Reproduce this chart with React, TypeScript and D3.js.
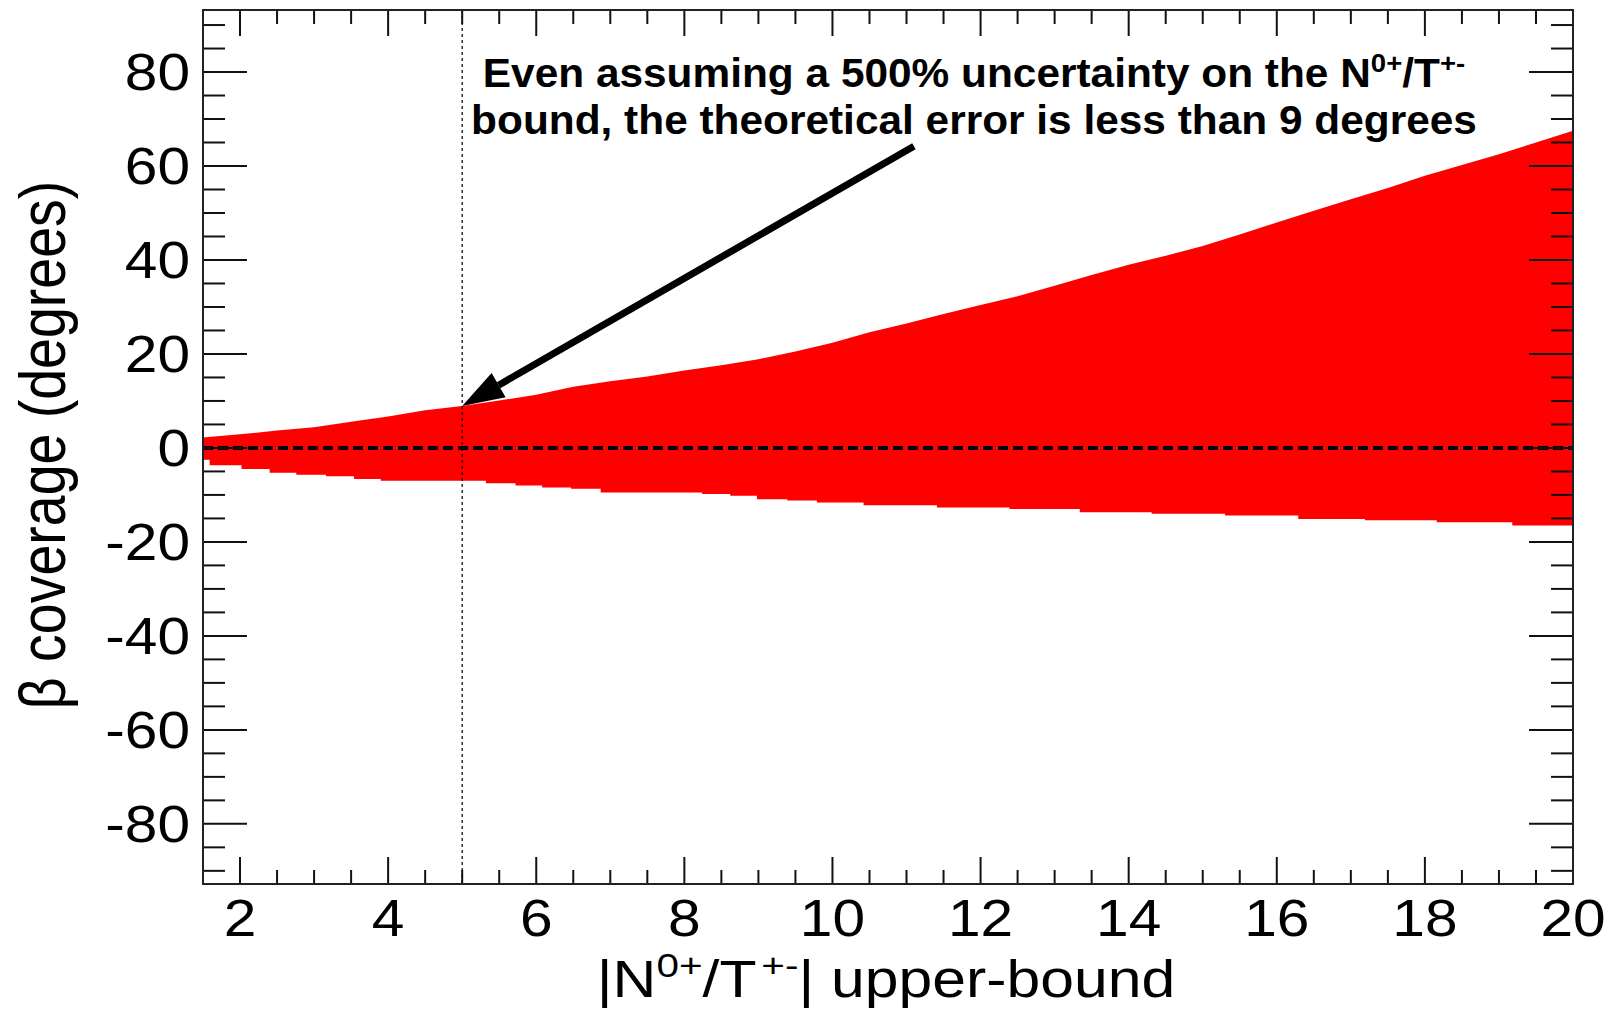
import React from 'react';
import * as d3 from 'd3';

// upper edge of the allowed beta band
const upperX = [1.5, 2, 2.5, 3, 3.5, 4, 4.5, 5, 5.5, 6, 6.5, 7, 7.5, 8, 8.5, 9, 9.5, 10, 10.5, 11, 11.5, 12, 12.5, 13, 13.5, 14, 14.5, 15, 15.5, 16, 16.5, 17, 17.5, 18, 18.5, 19, 19.5, 20];
const upperY = [2.2, 2.9, 3.7, 4.4, 5.6, 6.7, 8.0, 8.9, 10.1, 11.3, 13.0, 14.2, 15.2, 16.5, 17.6, 18.9, 20.5, 22.4, 24.6, 26.5, 28.5, 30.4, 32.3, 34.5, 36.8, 39.0, 40.9, 43.0, 45.4, 48.0, 50.5, 52.9, 55.3, 57.9, 60.2, 62.5, 65.0, 67.5];

// lower edge is a step histogram: each step starts at lowerX[i]
const lowerX = [1.5, 1.59, 2.02, 2.4, 2.76, 3.16, 3.54, 3.9, 5.32, 5.72, 6.08, 6.47, 6.87, 8.24, 8.62, 8.98, 9.39, 9.79, 10.42, 11.41, 12.39, 13.34, 14.31, 15.3, 16.29, 17.19, 18.16, 19.18];
const lowerY = [-2.5, -3.7, -4.5, -5.3, -5.7, -6.0, -6.6, -7.0, -7.5, -8.0, -8.4, -8.7, -9.5, -9.8, -10.2, -10.9, -11.2, -11.6, -12.2, -12.7, -13.0, -13.7, -14.0, -14.4, -15.1, -15.4, -15.8, -16.5];

const xTicks = [2, 4, 6, 8, 10, 12, 14, 16, 18, 20];
const yTicks = [-80, -60, -40, -20, 0, 20, 40, 60, 80];

const boundX = 5;
const arrowFrom = [11.1, 64.2];
const arrowTo = [5, 8.9];

const W = 1614;
const H = 1011;
const FONT = 'Liberation Sans, Arial, Helvetica, sans-serif';

export default function App() {
  const margin = { left: 203, right: W - 1573, top: 10, bottom: H - 884 };
  const x = d3.scaleLinear().domain([1.5, 20]).range([margin.left, W - margin.right]);
  const y = d3.scaleLinear().domain([-92.8, 93.2]).range([H - margin.bottom, margin.top]);
  const [x0, x1] = x.range();
  const [y0, y1] = [y.range()[1], y.range()[0]]; // top, bottom

  // red band: upper edge left->right, then the stepped lower edge back
  const pts: [number, number][] = upperX.map((v, i) => [x(v), y(upperY[i])]);
  const lowerPts: [number, number][] = [];
  lowerX.forEach((v, i) => {
    const end = i < lowerX.length - 1 ? lowerX[i + 1] : 20;
    lowerPts.push([x(v), y(lowerY[i])]);
    lowerPts.push([x(end), y(lowerY[i])]);
  });
  const band = d3.line()([...pts, ...lowerPts.reverse()]) + 'Z';

  const xMinor = d3.range(1.5, 20.01, 0.5).filter(v => !xTicks.includes(v));
  const yMinor = d3.range(-90, 90.01, 5).filter(v => !yTicks.includes(v));

  // arrow geometry
  const ax0 = x(arrowFrom[0]), ay0 = y(arrowFrom[1]);
  const ax1 = x(arrowTo[0]), ay1 = y(arrowTo[1]);
  const ang = Math.atan2(ay1 - ay0, ax1 - ax0);
  const headLen = 42, headW = 14;
  const bx = ax1 - headLen * Math.cos(ang), by = ay1 - headLen * Math.sin(ang);
  const head = [
    [ax1, ay1],
    [bx + headW * Math.sin(ang), by - headW * Math.cos(ang)],
    [bx - headW * Math.sin(ang), by + headW * Math.cos(ang)],
  ];

  const tickStroke = '#111';

  return (
    <svg width={W} height={H} style={{ position: 'absolute', left: 0, top: 0, background: '#fff' }}>
      <path d={band} fill="#ff0000" stroke="none" />

      {/* zero line */}
      <line x1={x0} x2={x1} y1={y(0)} y2={y(0)} stroke="#000" strokeWidth={4} strokeDasharray="10,5" />

      {/* vertical marker at the bound */}
      <line x1={x(boundX)} x2={x(boundX)} y1={y0} y2={y1} stroke="#000" strokeWidth={1.2} strokeDasharray="3,3" />

      {/* ticks */}
      <g stroke={tickStroke} strokeWidth={2}>
        {xTicks.map(t => (
          <g key={'xt' + t}>
            <line x1={x(t)} x2={x(t)} y1={y1} y2={y1 - 27} />
            <line x1={x(t)} x2={x(t)} y1={y0} y2={y0 + 26} />
          </g>
        ))}
        {xMinor.map(t => (
          <g key={'xm' + t}>
            <line x1={x(t)} x2={x(t)} y1={y1} y2={y1 - 14} />
            <line x1={x(t)} x2={x(t)} y1={y0} y2={y0 + 14} />
          </g>
        ))}
        {yTicks.map(t => (
          <g key={'yt' + t}>
            <line x1={x0} x2={x0 + 44} y1={y(t)} y2={y(t)} />
            <line x1={x1} x2={x1 - 44} y1={y(t)} y2={y(t)} />
          </g>
        ))}
        {yMinor.map(t => (
          <g key={'ym' + t}>
            <line x1={x0} x2={x0 + 22} y1={y(t)} y2={y(t)} />
            <line x1={x1} x2={x1 - 22} y1={y(t)} y2={y(t)} />
          </g>
        ))}
      </g>

      {/* frame */}
      <rect x={x0} y={y0} width={x1 - x0} height={y1 - y0} fill="none" stroke="#222" strokeWidth={2} />

      {/* tick labels */}
      <g fontFamily={FONT} fontSize={51} fill="#000">
        {xTicks.map(t => (
          <text key={'xl' + t} transform={`translate(${x(t)},936) scale(1.15,1)`} textAnchor="middle">{t}</text>
        ))}
        {yTicks.map(t => (
          <text key={'yl' + t} transform={`translate(190,${y(t) + 18}) scale(1.15,1)`} textAnchor="end">{t}</text>
        ))}
      </g>

      {/* axis titles */}
      <text transform={`translate(${(x0 + x1) / 2 - 2},997) scale(1.19,1)`} textAnchor="middle" fontFamily={FONT} fontSize={51}>
        |N<tspan fontSize={34} dy={-20}>0+</tspan>
        <tspan dy={20}>/T</tspan>
        <tspan fontSize={34} dy={-20} dx={4}>+-</tspan>
        <tspan dy={20}>| upper-bound</tspan>
      </text>
      <text transform={`translate(65,${(y0 + y1) / 2 - 2}) scale(1.16,1) rotate(-90)`} textAnchor="middle" fontFamily={FONT} fontSize={55.5}>
        β coverage (degrees)
      </text>

      {/* annotation */}
      <g fontFamily={FONT} fontWeight="bold" fontSize={40} fill="#000">
        <text transform="translate(974,87) scale(1.06,1)" textAnchor="middle">
          Even assuming a 500% uncertainty on the N<tspan fontSize={26} dy={-15}>0+</tspan>
          <tspan dy={15}>/T</tspan>
          <tspan fontSize={26} dy={-15}>+-</tspan>
        </text>
        <text transform="translate(974,134) scale(1.06,1)" textAnchor="middle">
          bound, the theoretical error is less than 9 degrees
        </text>
      </g>

      {/* arrow */}
      <line x1={ax0} y1={ay0} x2={bx} y2={by} stroke="#000" strokeWidth={7} />
      <polygon points={head.map(p => p.join(',')).join(' ')} fill="#000" />
    </svg>
  );
}
